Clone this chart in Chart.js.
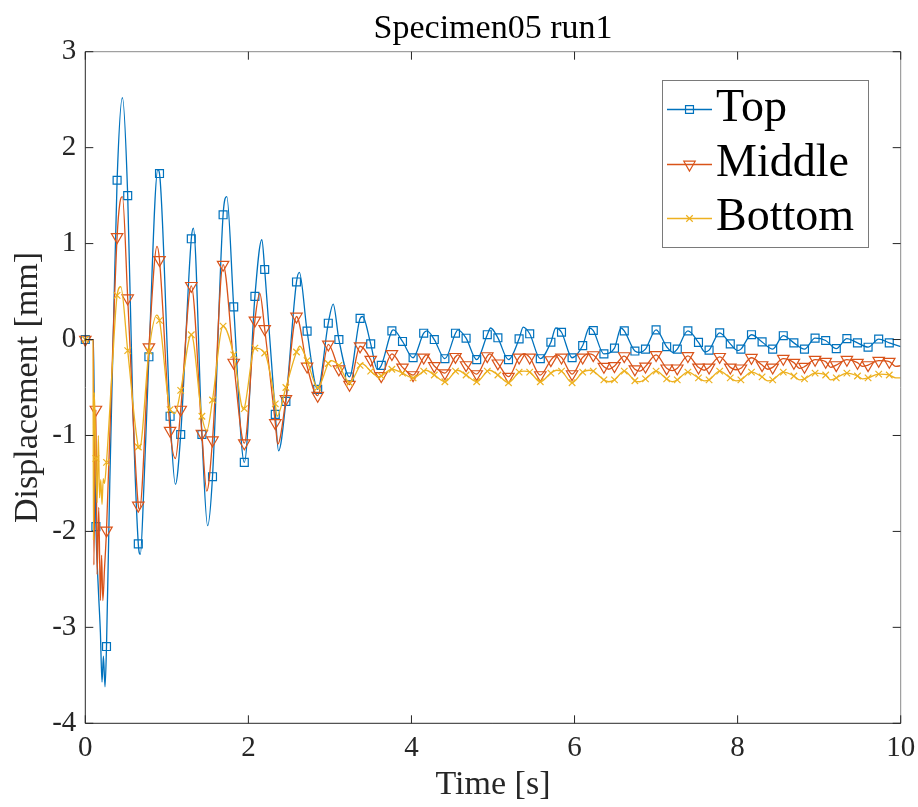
<!DOCTYPE html>
<html>
<head>
<meta charset="utf-8">
<script src="https://cdn.jsdelivr.net/npm/chart.js@4.4.0/dist/chart.umd.min.js"></script>
<style>
html,body{margin:0;padding:0;background:#ffffff;}
#wrap{width:918px;height:807px;}
</style>
</head>
<body>
<div id="wrap"><canvas id="c" width="918" height="807"></canvas></div>
<script>
// ---------- data ----------
const seriesNames = ['Top', 'Middle', 'Bottom'];

// times at which the markers are drawn [s]
const markerTime = [0,0.13,0.26,0.39,0.52,0.65,0.78,0.91,1.04,1.17,1.30,1.43,1.56,1.69,1.82,1.95,2.08,2.20,2.33,2.46,2.59,2.72,2.85,2.98,3.11,3.24,3.37,3.50,3.63,3.76,3.89,4.02,4.15,4.28,4.41,4.54,4.67,4.80,4.93,5.06,5.19,5.32,5.45,5.58,5.71,5.84,5.97,6.10,6.23,6.36,6.49,6.61,6.74,6.87,7.00,7.13,7.26,7.39,7.52,7.65,7.78,7.91,8.04,8.17,8.30,8.43,8.56,8.69,8.82,8.95,9.08,9.21,9.34,9.47,9.60,9.73,9.86];

// displacement at the marker times [mm]
const topAtMarker = [0,-1.95,-3.2,1.66,1.50,-2.13,-0.18,1.73,-0.80,-0.99,1.05,-0.99,-1.43,1.30,0.34,-1.28,0.45,0.73,-0.78,-0.645,0.60,0.087,-0.52,0.17,0.0,-0.39,0.22,-0.045,-0.27,0.09,-0.02,-0.19,0.066,0.0,-0.20,0.066,0.014,-0.21,0.05,0.018,-0.21,0.007,0.06,-0.20,-0.028,0.076,-0.19,-0.063,0.094,-0.15,-0.09,0.09,-0.12,-0.10,0.10,-0.075,-0.10,0.09,-0.03,-0.11,0.07,-0.045,-0.10,0.05,-0.025,-0.10,0.04,-0.035,-0.10,0.015,-0.01,-0.095,0.01,-0.035,-0.08,0.005,-0.035];
const middleAtMarker = [0,-0.73,-1.99,1.07,0.43,-1.73,-0.08,0.83,-0.95,-0.73,0.56,-0.98,-1.05,0.78,-0.24,-1.08,0.20,0.11,-0.87,-0.62,0.24,-0.28,-0.585,-0.05,-0.31,-0.47,-0.07,-0.21,-0.38,-0.15,-0.29,-0.37,-0.186,-0.276,-0.35,-0.18,-0.266,-0.36,-0.172,-0.248,-0.387,-0.186,-0.186,-0.37,-0.214,-0.186,-0.36,-0.186,-0.162,-0.283,-0.276,-0.172,-0.31,-0.28,-0.16,-0.30,-0.30,-0.17,-0.29,-0.29,-0.18,-0.29,-0.30,-0.19,-0.266,-0.29,-0.20,-0.241,-0.283,-0.21,-0.23,-0.266,-0.21,-0.241,-0.266,-0.22,-0.23];
const bottomAtMarker = [0,-1.24,-1.28,0.46,-0.115,-1.12,-0.12,0.20,-0.73,-0.53,0.05,-0.80,-0.63,0.14,-0.16,-0.72,-0.09,-0.14,-0.67,-0.50,-0.13,-0.22,-0.50,-0.25,-0.27,-0.45,-0.27,-0.33,-0.38,-0.31,-0.35,-0.40,-0.33,-0.37,-0.44,-0.33,-0.37,-0.44,-0.33,-0.37,-0.45,-0.34,-0.34,-0.44,-0.35,-0.33,-0.45,-0.34,-0.33,-0.42,-0.42,-0.33,-0.43,-0.41,-0.33,-0.41,-0.42,-0.34,-0.40,-0.42,-0.33,-0.40,-0.42,-0.34,-0.39,-0.42,-0.34,-0.38,-0.41,-0.35,-0.37,-0.40,-0.35,-0.38,-0.40,-0.36,-0.37];

// extra samples of each trace between markers (peaks, troughs, spikes)
const topExtraTime = [0.10,0.115,0.16,0.185,0.205,0.222,0.242,0.30,0.35,0.455,0.58,0.675,0.72,0.89,1.105,1.325,1.50,1.735,2.165,2.37,2.625,3.04,3.40,3.58,3.78,4.19,4.57,4.97,5.37,5.77,6.18,6.57,6.80,7.21,7.60,8.00,10.0];
const topExtraValue = [0,-1.2,-2.6,-3.05,-3.57,-3.3,-3.62,-1.5,0.3,2.52,-0.6,-2.24,-1.5,1.77,-1.51,1.16,-1.94,1.49,1.04,-1.16,0.70,0.37,0.24,-0.31,0.10,0.09,0.10,0.12,0.13,0.12,0.12,0.12,-0.135,-0.135,-0.13,-0.115,-0.075];

const middleExtraTime = [0.10,0.105,0.118,0.145,0.165,0.185,0.20,0.215,0.235,0.32,0.425,0.455,0.665,0.88,1.105,1.49,2.14,2.36,3.58,4.18,4.57,4.96,5.38,5.78,6.17,6.42,6.80,7.20,7.59,7.98,8.37,8.76,9.14,9.53,9.94,10.0];
const middleExtraValue = [0,-2.35,-1.2,-2.45,-1.75,-2.72,-2.25,-2.72,-2.4,-0.5,1.43,1.49,-1.77,0.97,-1.24,-1.58,0.48,-1.09,-0.39,-0.16,-0.16,-0.15,-0.15,-0.16,-0.15,-0.31,-0.33,-0.325,-0.32,-0.315,-0.31,-0.30,-0.29,-0.28,-0.28,-0.273];

const bottomExtraTime = [0.095,0.10,0.11,0.145,0.16,0.175,0.19,0.205,0.22,0.235,0.33,0.435,0.665,0.875,1.10,1.49,1.94,2.35,2.63,3.01,3.39,3.60,4.18,4.57,4.96,5.38,5.78,6.18,6.42,6.80,7.20,7.59,7.98,8.37,8.76,9.14,9.53,9.94,10.0];
const bottomExtraValue = [0,-2.09,-0.55,-1.7,-1.0,-1.65,-1.46,-1.72,-1.45,-1.5,-0.3,0.55,-1.14,0.255,-0.77,-0.95,-0.73,-0.80,-0.07,-0.22,-0.25,-0.39,-0.32,-0.32,-0.32,-0.33,-0.32,-0.32,-0.44,-0.44,-0.44,-0.43,-0.43,-0.43,-0.42,-0.42,-0.41,-0.40,-0.40];

const xTickValues = [0, 2, 4, 6, 8, 10];
const yTickValues = [-4, -3, -2, -1, 0, 1, 2, 3];

// ---------- build ----------
const FONT = "'Liberation Serif', 'Times New Roman', serif";
const COLORS = ['#0072BD', '#D95319', '#EDB120'];

function buildSeries(markVals, extraT, extraV) {
  const pts = markerTime.map((t, i) => ({x: t, y: markVals[i], m: true}));
  extraT.forEach((t, i) => pts.push({x: t, y: extraV[i], m: false}));
  pts.sort((a, b) => a.x - b.x);
  return pts;
}

const markerStyles = [
  {pointStyle: 'rect', r: 5.6, rotation: 0},
  {pointStyle: 'triangle', r: 6.6, rotation: 180},
  {pointStyle: 'crossRot', r: 4.6, rotation: 0}
];

const rawSets = [
  buildSeries(topAtMarker, topExtraTime, topExtraValue),
  buildSeries(middleAtMarker, middleExtraTime, middleExtraValue),
  buildSeries(bottomAtMarker, bottomExtraTime, bottomExtraValue)
];

const datasets = rawSets.map((pts, i) => ({
  label: seriesNames[i],
  data: pts,
  borderColor: COLORS[i],
  backgroundColor: 'rgba(0,0,0,0)',
  borderWidth: 1.3,
  cubicInterpolationMode: 'monotone',
  pointStyle: markerStyles[i].pointStyle,
  rotation: markerStyles[i].rotation,
  pointRadius: (ctx) => (ctx.raw && ctx.raw.m) ? markerStyles[i].r : 0,
  pointHoverRadius: 0,
  pointBorderColor: COLORS[i],
  pointBackgroundColor: 'rgba(0,0,0,0)',
  pointBorderWidth: 1.2,
  clip: false,
  order: 3 - i
}));

// axes box + inward ticks (MATLAB style)
const boxPlugin = {
  id: 'boxPlugin',
  afterDatasetsDraw(chart) {
    const {ctx, chartArea: a, scales} = chart;
    ctx.save();
    ctx.lineWidth = 1;
    ctx.strokeStyle = '#8a8a8a';
    ctx.beginPath();
    ctx.moveTo(a.left, a.top); ctx.lineTo(a.right, a.top); ctx.lineTo(a.right, a.bottom);
    ctx.stroke();
    ctx.strokeStyle = '#262626';
    ctx.beginPath();
    ctx.moveTo(a.left, a.top); ctx.lineTo(a.left, a.bottom); ctx.lineTo(a.right, a.bottom);
    ctx.stroke();
    const tl = 8;
    ctx.beginPath();
    xTickValues.forEach(v => {
      const px = scales.x.getPixelForValue(v);
      ctx.moveTo(px, a.bottom); ctx.lineTo(px, a.bottom - tl);
      ctx.moveTo(px, a.top); ctx.lineTo(px, a.top + tl);
    });
    yTickValues.forEach(v => {
      const py = scales.y.getPixelForValue(v);
      ctx.moveTo(a.left, py); ctx.lineTo(a.left + tl, py);
      ctx.moveTo(a.right, py); ctx.lineTo(a.right - tl, py);
    });
    ctx.stroke();
    ctx.restore();
  }
};

function drawMarker(ctx, style, x, y, color) {
  ctx.save();
  ctx.strokeStyle = color;
  ctx.lineWidth = 1.2;
  ctx.beginPath();
  if (style === 'rect') {
    const s = 5.6 * Math.SQRT1_2;
    ctx.rect(x - s, y - s, 2 * s, 2 * s);
  } else if (style === 'triangle') {
    const r = 6.6;
    ctx.moveTo(x, y + r);
    ctx.lineTo(x - r * Math.sin(Math.PI / 3), y - r / 2);
    ctx.lineTo(x + r * Math.sin(Math.PI / 3), y - r / 2);
    ctx.closePath();
  } else {
    const d = 4.6 * Math.SQRT1_2;
    ctx.moveTo(x - d, y - d); ctx.lineTo(x + d, y + d);
    ctx.moveTo(x + d, y - d); ctx.lineTo(x - d, y + d);
  }
  ctx.stroke();
  ctx.restore();
}

// MATLAB style legend inside the axes
const legendPlugin = {
  id: 'matlabLegend',
  afterDraw(chart) {
    const ctx = chart.ctx;
    const bx = 662, by = 80, bw = 206, bh = 167;
    ctx.save();
    ctx.fillStyle = '#ffffff';
    ctx.fillRect(bx, by, bw, bh);
    ctx.strokeStyle = '#7a7a7a';
    ctx.lineWidth = 1;
    ctx.strokeRect(bx + 0.5, by + 0.5, bw, bh);
    const rowY = [109.5, 164.5, 218.5];
    chart.data.datasets.forEach((ds, i) => {
      const y = rowY[i];
      ctx.strokeStyle = COLORS[i];
      ctx.lineWidth = 1.3;
      ctx.beginPath();
      ctx.moveTo(667, y); ctx.lineTo(712, y);
      ctx.stroke();
      drawMarker(ctx, markerStyles[i].pointStyle, 689.5, y, COLORS[i]);
      ctx.fillStyle = '#000000';
      ctx.font = "46px " + FONT;
      ctx.textAlign = 'left';
      ctx.textBaseline = 'alphabetic';
      ctx.fillText(ds.label, 716, y + 11);
    });
    ctx.restore();
  }
};

Chart.defaults.font.family = FONT;

new Chart(document.getElementById('c').getContext('2d'), {
  type: 'line',
  data: {datasets},
  options: {
    responsive: false,
    animation: false,
    devicePixelRatio: 1,
    events: [],
    layout: {padding: {left: 0, right: 17.3, top: 0, bottom: 0}},
    plugins: {
      legend: {display: false},
      tooltip: {enabled: false},
      title: {
        display: true,
        fullSize: false,
        text: 'Specimen05 run1',
        color: '#000000',
        font: {family: FONT, size: 34, weight: 'normal'},
        padding: {top: 8.5, bottom: 2.4}
      }
    },
    scales: {
      x: {
        type: 'linear',
        min: 0, max: 10,
        afterBuildTicks: (s) => { s.ticks = xTickValues.map(v => ({value: v})); },
        afterFit: (s) => { s.height = 83.7; s.paddingLeft = 0; s.paddingRight = 0; },
        ticks: {color: '#262626', font: {family: FONT, size: 29}, padding: 8, maxRotation: 0},
        grid: {display: false, drawTicks: false},
        border: {display: false},
        title: {display: true, text: 'Time [s]', color: '#262626', font: {family: FONT, size: 34}, padding: {top: 0, bottom: 1.2}}
      },
      y: {
        type: 'linear',
        min: -4, max: 3,
        afterBuildTicks: (s) => { s.ticks = yTickValues.map(v => ({value: v})); },
        afterFit: (s) => { s.width = 85.3; s.paddingTop = 0; s.paddingBottom = 0; },
        ticks: {color: '#262626', font: {family: FONT, size: 29}, padding: 9},
        grid: {display: false, drawTicks: false},
        border: {display: false},
        title: {display: true, text: 'Displacement [mm]', color: '#262626', font: {family: FONT, size: 34}, padding: {top: 8, bottom: 0}}
      }
    }
  },
  plugins: [boxPlugin, legendPlugin]
});
</script>
</body>
</html>
